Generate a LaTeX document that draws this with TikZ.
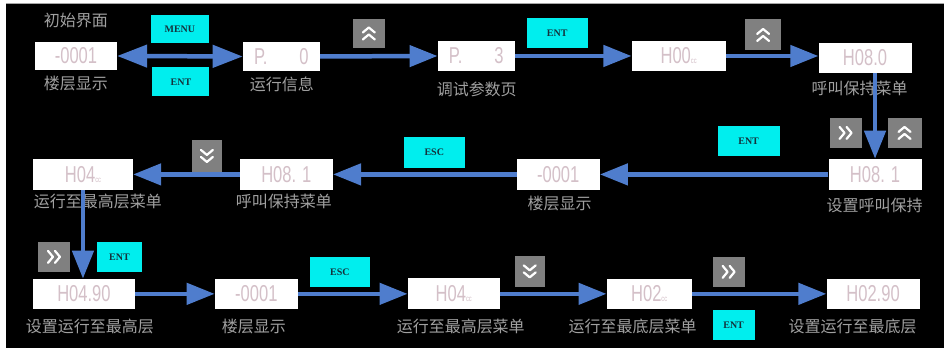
\documentclass[tikz,border=0pt]{standalone}
\usepackage{fontspec}
\usetikzlibrary{arrows.meta}
\newfontfamily\cjk{Noto Sans CJK SC}
\newfontfamily\segfont[FakeStretch=0.72]{Liberation Sans}
\newfontfamily\keyfont{Liberation Serif}
\definecolor{arrblue}{RGB}{79,125,205}
\definecolor{keycyan}{RGB}{0,238,238}
\definecolor{keygray}{RGB}{128,128,128}
\definecolor{labgray}{RGB}{160,160,160}
\definecolor{segcol}{RGB}{212,192,200}
\definecolor{keytxt}{RGB}{20,50,60}
\tikzset{
  disp/.style={fill=white,draw=none,inner sep=0pt,text=segcol,font=\segfont\fontsize{23}{23}\selectfont},
  lab/.style={text=labgray,inner sep=0pt,font=\cjk\fontsize{16}{16}\selectfont},
  ckey/.style={fill=keycyan,inner sep=0pt,text=keytxt,font=\keyfont\bfseries\fontsize{10}{10}\selectfont},
  gkey/.style={fill=keygray,inner sep=0pt},
  chev/.style={white,line width=2.2pt,line cap=round,line join=round},
  arr/.style={arrblue,line width=4.5pt,-{Triangle[length=28pt,width=21pt]}},
  darr/.style={arrblue,line width=4.5pt,{Triangle[length=30pt,width=22pt]}-{Triangle[length=30pt,width=22pt]}}
}
\newcommand\keyup[1]{%
  \draw[chev] ([shift={(-6,-1)}]#1.center) -- ++(6,-5) -- ++(6,5);
  \draw[chev] ([shift={(-6,6)}]#1.center) -- ++(6,-5) -- ++(6,5);}
\newcommand\keydn[1]{%
  \draw[chev] ([shift={(-6,-6)}]#1.center) -- ++(6,5) -- ++(6,-5);
  \draw[chev] ([shift={(-6,1)}]#1.center) -- ++(6,5) -- ++(6,-5);}
\newcommand\keyrt[1]{%
  \draw[chev] ([shift={(-6,-6)}]#1.center) -- ++(5,6) -- ++(-5,6);
  \draw[chev] ([shift={(1,-6)}]#1.center) -- ++(5,6) -- ++(-5,6);}
\begin{document}
\begin{tikzpicture}[x=1pt,y=-1pt]
\fill[white] (0,0) rectangle (944,348);
\fill[black] (6,4) rectangle (944,348);
\draw[gray!70,line width=1pt] (6,3.5) -- (944,3.5);
\useasboundingbox (0,0) rectangle (944,348);

% display boxes
\node[disp,minimum width=82pt,minimum height=28pt] (A) at (76,56) {-0001};
\node[disp,minimum width=77pt,minimum height=29pt] (B) at (281.5,56.5) {P.\hspace{32pt}0};
\node[disp,minimum width=77pt,minimum height=30pt] (C) at (476.5,56) {P.\hspace{32pt}3};
\node[disp,minimum width=94pt,minimum height=30pt] (D) at (679,56) {H00{\fontsize{8}{8}\selectfont cc}};
\node[disp,minimum width=93pt,minimum height=30pt] (E) at (865.5,58) {H08.0};
\node[disp,minimum width=93pt,minimum height=31pt] (F) at (875.5,174.5) {H08.\hspace{6pt}1};
\node[disp,minimum width=83pt,minimum height=31pt] (G) at (558.5,174.5) {-0001};
\node[disp,minimum width=93pt,minimum height=31pt] (H) at (286.5,174.5) {H08.\hspace{6pt}1};
\node[disp,minimum width=100pt,minimum height=31pt] (I) at (83,174.5) {H04{\fontsize{8}{8}\selectfont cc}};
\node[disp,minimum width=102pt,minimum height=30pt] (J) at (84,294) {H04.90};
\node[disp,minimum width=83pt,minimum height=30pt] (K) at (256.5,294) {-0001};
\node[disp,minimum width=92pt,minimum height=31pt] (L) at (454,294) {H04{\fontsize{8}{8}\selectfont cc}};
\node[disp,minimum width=85pt,minimum height=30pt] (M) at (649.5,294) {H02{\fontsize{8}{8}\selectfont cc}};
\node[disp,minimum width=93pt,minimum height=30pt] (N) at (873.5,294) {H02.90};

% labels
\node[lab] (lt) at (76,20) {初始界面};
\node[lab] (la) at (76,84) {楼层显示};
\node[lab] (lb) at (282,84) {运行信息};
\node[lab] (lc) at (477,89) {调试参数页};
\node[lab] (le) at (860,88) {呼叫保持菜单};
\node[lab] (lf) at (875,206) {设置呼叫保持};
\node[lab] (lg) at (560,204) {楼层显示};
\node[lab] (lh) at (284,202) {呼叫保持菜单};
\node[lab] (li) at (98,202) {运行至最高层菜单};
\node[lab] (lj) at (90,327) {设置运行至最高层};
\node[lab] (lk) at (254,327) {楼层显示};
\node[lab] (ll) at (461,327) {运行至最高层菜单};
\node[lab] (lm) at (633,327) {运行至最底层菜单};
\node[lab] (ln) at (853,327) {设置运行至最底层};

% keys
\node[ckey,minimum width=58pt,minimum height=28pt] (k1) at (180,29) {MENU};
\node[ckey,minimum width=57pt,minimum height=29pt] (k2) at (181,82) {ENT};
\node[gkey,minimum width=32pt,minimum height=29pt] (k3) at (369,33.5) {};
\node[ckey,minimum width=61pt,minimum height=30pt] (k4) at (557.5,33) {ENT};
\node[gkey,minimum width=36pt,minimum height=31pt] (k5) at (763.5,35) {};
\node[gkey,minimum width=32pt,minimum height=30pt] (k6) at (846,133) {};
\node[gkey,minimum width=34pt,minimum height=30pt] (k7) at (905,133) {};
\node[ckey,minimum width=62pt,minimum height=30pt] (k8) at (749,141.5) {ENT};
\node[ckey,minimum width=61pt,minimum height=31pt] (k9) at (434.5,152.5) {ESC};
\node[gkey,minimum width=30pt,minimum height=32pt] (k10) at (207,156) {};
\node[gkey,minimum width=32pt,minimum height=30pt] (k11) at (54,257) {};
\node[ckey,minimum width=45pt,minimum height=30pt] (k12) at (119.5,257) {ENT};
\node[ckey,minimum width=60pt,minimum height=30pt] (k13) at (340,272) {ESC};
\node[gkey,minimum width=30pt,minimum height=31pt] (k14) at (530,271.5) {};
\node[gkey,minimum width=32pt,minimum height=30pt] (k15) at (729,272) {};
\node[ckey,minimum width=42pt,minimum height=30pt] (k16) at (734,325) {ENT};

\keyup{k3}
\keyup{k5}
\keyrt{k6}
\keyup{k7}
\keydn{k10}
\keyrt{k11}
\keydn{k14}
\keyrt{k15}

% connectors
\draw[darr] (A.east) -- (B.west);
\draw[arr] (B.east) -- (C.west);
\draw[arr] (C.east) -- (D.west);
\draw[arr] (D.east) -- (D.east -| E.west);
\draw[arr] (E.south -| F.north) -- (F.north);
\draw[arr] (F.west) -- (G.east);
\draw[arr] (G.west) -- (H.east);
\draw[arr] (H.west) -- (I.east);
\draw[arr] (I.south) -- (I.south |- J.north);
\draw[arr] (J.east) -- (K.west);
\draw[arr] (K.east) -- (L.west);
\draw[arr] (L.east) -- (M.west);
\draw[arr] (M.east) -- (N.west);
\end{tikzpicture}
\end{document}
